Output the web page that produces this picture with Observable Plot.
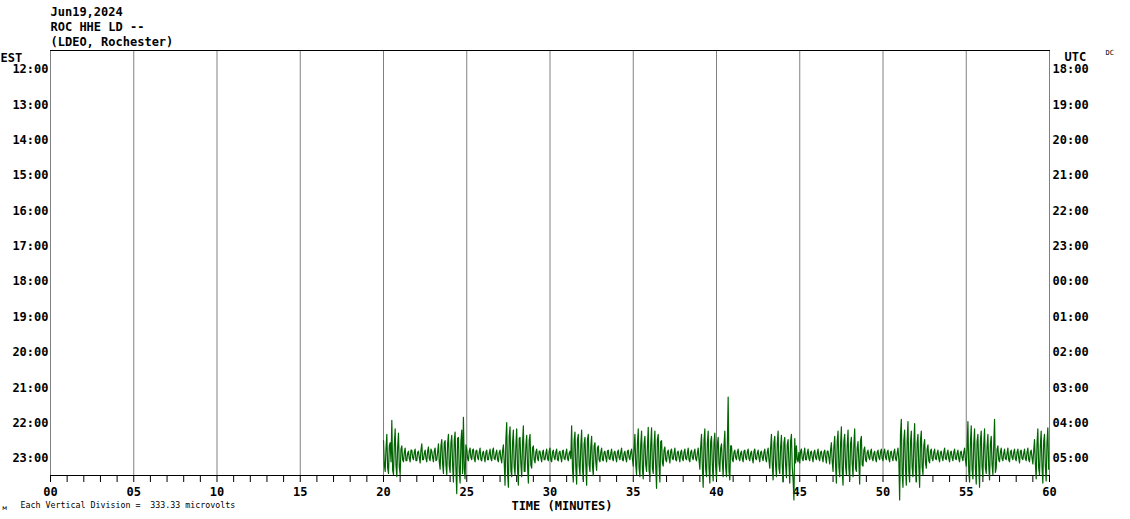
<!DOCTYPE html>
<html>
<head>
<meta charset="utf-8">
<script src="https://cdn.jsdelivr.net/npm/d3@7"></script>
<script src="https://cdn.jsdelivr.net/npm/@observablehq/plot@0.6"></script>
<style>
body { margin: 0; background: #fff; }
svg { display: block; }
</style>
</head>
<body>
<div id="chart"></div>
<script>
// ---- data ----
const titleLines = ["Jun19,2024", "ROC HHE LD --", "(LDEO, Rochester)"];
const estLabels = ["12:00","13:00","14:00","15:00","16:00","17:00","18:00","19:00","20:00","21:00","22:00","23:00"];
const utcLabels = ["18:00","19:00","20:00","21:00","22:00","23:00","00:00","01:00","02:00","03:00","04:00","05:00"];
const minuteTicks = [0,1,2,3,4,5,6,7,8,9,10,11,12,13,14,15,16,17,18,19,20,21,22,23,24,25,26,27,28,29,30,31,32,33,34,35,36,37,38,39,40,41,42,43,44,45,46,47,48,49,50,51,52,53,54,55,56,57,58,59,60];
const gridMinutes = [0,5,10,15,20,25,30,35,40,45,50,55,60];
const minuteLabels = ["00","05","10","15","20","25","30","35","40","45","50","55","60"];
const microvoltsPerDivision = 333.33;
const traceRow = 11;            // 23:00 line
const traceStart = 20;          // minutes
const traceStep = 0.05;         // minutes per sample
// trace deflection in microvolts (positive = up), 20 samples per minute, minutes 20..59
const traceValues = [
 140,-90,-150,60,200,-120,-170,90,120,-60,330,-140,-180,100,250,-90,-200,80,210,-110,
 -180,60,90,-40,-60,30,70,-50,-50,20,40,-30,-60,50,50,-20,-40,30,60,-50,
 -50,30,40,-20,-70,50,110,-40,-40,20,50,-30,-60,40,80,-30,-50,60,40,-20,
 -60,40,70,-50,-40,30,110,-60,-130,90,150,-80,-170,120,140,-90,-180,110,200,-100,
 -160,120,190,-90,-250,140,220,-130,-360,160,170,-150,-260,130,240,-170,360,-120,-220,100,
 60,-30,-50,40,70,-20,-40,50,60,-30,-60,40,50,-20,-40,30,70,-40,-50,20,
 40,-20,-60,30,50,-40,-40,20,60,-30,-50,40,70,-30,-40,20,50,-40,-60,30,
 50,-30,-70,40,100,-60,-280,150,310,-160,-300,180,270,-140,-200,120,240,-110,-180,90,
 250,-130,-280,160,170,-80,-200,110,280,-150,-150,90,190,-100,-260,140,200,-90,-120,70,
 90,-40,-70,30,60,-30,-50,40,40,-20,-60,30,50,-40,-40,20,60,-30,-50,40,
 70,-40,-60,30,50,-20,-40,30,60,-40,-50,30,40,-20,-60,40,50,-30,-40,20,
 60,-30,-50,20,40,-30,280,-120,-250,140,220,-110,-270,150,200,-100,-180,90,240,-120,
 -230,110,170,-80,-280,150,200,-90,-150,80,180,-100,-190,90,120,-60,-140,70,90,-40,
 -60,30,70,-40,-50,30,40,-20,-60,40,50,-30,-40,20,60,-30,-50,30,40,-20,
 -60,30,50,-20,-40,30,70,-40,-50,20,40,-30,-60,40,50,-20,-40,30,60,-30,
 -100,60,200,-90,-180,110,250,-120,-200,100,230,-130,-220,110,180,-90,-150,80,265,-140,
 -200,100,260,-120,-170,90,230,-110,-310,150,200,-90,-250,130,140,-70,-100,50,80,-40,
 -60,30,50,-20,-70,40,60,-30,-40,20,70,-40,-50,30,40,-20,-60,30,50,-30,
 -50,30,60,-30,-40,20,70,-40,-60,30,50,-20,-40,30,60,-30,-50,20,70,-40,
 -130,80,200,-100,-300,140,250,-130,-200,110,230,-120,-260,130,180,-90,-240,120,210,-110,
 -220,100,170,-80,-150,70,110,-60,-200,90,230,-110,-200,80,550,-150,-230,90,90,-40,
 -60,30,50,-20,-40,30,60,-30,-50,20,40,-30,-60,40,50,-20,-40,30,60,-30,
 -50,20,40,-30,-70,40,60,-30,-40,20,50,-20,-60,30,40,-20,-50,30,60,-30,
 -60,30,70,-40,-120,70,200,-90,-230,120,180,-100,-200,110,230,-120,-170,80,190,-100,
 -250,120,170,-90,-210,100,150,-80,-260,130,200,-110,-230,-420,160,-70,90,-40,-60,30,
 -70,40,60,-30,-50,20,70,-40,-40,20,60,-30,-50,30,40,-20,-60,30,50,-20,
 -40,20,60,-30,-50,30,40,-20,-60,30,50,-20,-70,40,40,-20,-80,50,120,-60,
 -150,80,180,-90,-260,130,230,-110,-200,100,270,-140,-280,130,200,-100,-180,90,240,-120,
 -230,110,170,-80,-200,100,250,-120,-150,70,130,-60,-270,140,180,-90,-100,50,80,-40,
 -60,30,50,-20,-40,30,60,-30,-50,20,40,-30,-60,30,50,-20,-40,30,60,-30,
 -50,30,60,-20,-40,30,50,-30,-60,30,40,-20,-50,30,60,-30,-50,20,70,-40,
 -420,200,340,-160,-300,140,240,-120,-280,130,320,-150,-250,120,230,-110,-200,100,300,-140,
 -250,120,200,-100,-300,140,230,-110,-180,90,150,-70,-120,60,100,-50,-70,40,60,-30,
 -50,30,60,-30,-40,20,50,-30,-60,30,40,-20,-50,30,70,-30,-40,20,50,-30,
 -60,30,40,-20,-50,30,60,-30,-40,20,50,-30,-60,30,40,-20,-50,30,70,-40,
 -100,60,320,-150,-250,120,280,-130,-220,110,250,-120,-270,130,200,-100,-300,140,230,-110,
 -200,100,250,-120,-170,80,200,-100,-230,110,180,-90,-180,90,340,-160,-120,60,90,-40,
 -60,30,70,-30,-50,20,60,-30,-40,20,70,-40,-60,30,50,-20,-40,30,60,-30,
 -50,30,60,-20,-70,40,50,-30,-40,20,60,-30,-50,30,70,-40,-60,30,50,-20,
 -80,40,150,-70,-220,110,250,-120,-180,90,230,-110,-260,130,200,-100,-240,120,260,-130
];

// ---- build table ----
const trace = traceValues.map((v, i) => ({t: traceStart + i * traceStep, v}));
const rows = estLabels.map((_, i) => i);

const FONT = "DejaVu Sans Mono";
const bold = {fontSize: 12, fontWeight: "bold", fill: "#000"};
const chart = Plot.plot({
  width: 1130,
  height: 519,
  marginLeft: 50,
  marginRight: 81,
  marginTop: 50,
  marginBottom: 44,
  style: {fontFamily: FONT, background: "#fff", color: "#000"},
  x: {domain: [0, 60], axis: null},
  y: {domain: [11.567, -0.4525], axis: null},
  marks: [
    Plot.ruleX(gridMinutes, {stroke: "#808080", strokeWidth: 1}),
    Plot.frame({anchor: "top", stroke: "#000"}),
    Plot.frame({anchor: "bottom", stroke: "#000"}),
    Plot.axisX({ticks: minuteTicks, tickSize: 7, tickFormat: () => "", stroke: "#000", label: null}),
    Plot.axisX({ticks: gridMinutes, tickSize: 0, tickPadding: 12, tickFormat: (d, i) => minuteLabels[i],
      ...bold, label: null}),
    Plot.text(["TIME (MINUTES)"], {frameAnchor: "bottom", dy: 34, dx: 12, ...bold}),
    // row labels
    Plot.text(rows, {y: d => d, text: d => estLabels[d], frameAnchor: "left", textAnchor: "end", dx: -2, dy: 3, ...bold}),
    Plot.text(rows, {y: d => d, text: d => utcLabels[d], frameAnchor: "right", textAnchor: "start", dx: 3, dy: 3, ...bold}),
    Plot.text(["EST"], {frameAnchor: "top-left", textAnchor: "start", dx: -50, dy: 3, ...bold}),
    Plot.text(["UTC"], {frameAnchor: "top-right", textAnchor: "start", dx: 15, dy: 2, ...bold}),
    Plot.text(["DC"], {frameAnchor: "top-right", textAnchor: "start", dx: 56, dy: 0, fontSize: 7, fill: "#000"}),
    // title lines
    Plot.text([titleLines[0]], {frameAnchor: "top-left", textAnchor: "start", dy: -43, ...bold}),
    Plot.text([titleLines[1]], {frameAnchor: "top-left", textAnchor: "start", dy: -28, ...bold}),
    Plot.text([titleLines[2]], {frameAnchor: "top-left", textAnchor: "start", dy: -13, ...bold}),
    // caption
    Plot.text(["Each Vertical Division =  " + microvoltsPerDivision.toFixed(2) + " microvolts"],
      {frameAnchor: "bottom-left", textAnchor: "start", dx: -30, dy: 32, fontSize: 8.3, fill: "#000"}),
    Plot.text(["м"], {frameAnchor: "bottom-left", textAnchor: "start", dx: -48, dy: 34, fontSize: 7, fill: "#000"}),
    // trace
    Plot.line(trace, {x: "t", y: d => traceRow - d.v / microvoltsPerDivision, stroke: "#006400", strokeWidth: 1.2})
  ]
});
document.getElementById("chart").appendChild(chart);
</script>
</body>
</html>
